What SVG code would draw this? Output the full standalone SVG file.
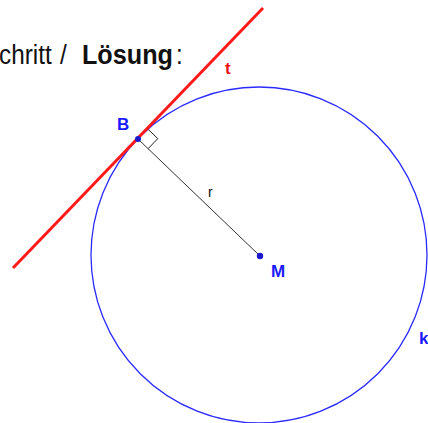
<svg xmlns="http://www.w3.org/2000/svg" width="428" height="423" viewBox="0 0 428 423">
<style>
.hdr{font-family:"Liberation Sans",Arial,sans-serif;font-size:27px;fill:#111}
.lbl{font-family:"Liberation Sans",Arial,sans-serif;font-size:17px;font-weight:bold}
.sm{font-family:"Liberation Sans",Arial,sans-serif;font-size:14px;fill:#111}
.blue{fill:#1a1aff}
</style>
<rect width="428" height="423" fill="#fff"/>
<g id="title">
<text class="hdr" transform="scale(0.9,1)" y="64"><tspan x="-1.1">chritt</tspan><tspan x="66.7">/</tspan><tspan x="91.1" font-weight="bold" font-size="28">Lösung</tspan><tspan x="195.6">:</tspan></text>
</g>
<g id="circle-k">
<circle cx="259" cy="255" r="168" fill="none" stroke="#2a2aff" stroke-width="1.3"/>
<text class="lbl blue" x="419" y="344">k</text>
</g>
<g id="connectors">
<line id="radius" x1="138" y1="139" x2="260" y2="256" stroke="#333" stroke-width="1"/>
<polyline id="right-angle" points="147.7,128.9 157.8,138.6 148.1,148.7" fill="none" stroke="#222" stroke-width="1"/>
<text class="sm" x="208" y="197">r</text>
</g>
<g id="tangent-t">
<line x1="13" y1="268" x2="263" y2="8" stroke="#ff1a1a" stroke-width="3"/>
<text class="lbl" x="225" y="74" fill="#ee1111">t</text>
</g>
<g id="point-B">
<circle cx="138" cy="139" r="3" fill="#1a1acc"/>
<text class="lbl blue" x="117" y="130">B</text>
</g>
<g id="point-M">
<circle cx="260" cy="256" r="3.2" fill="#1a1acc"/>
<text class="lbl blue" x="271" y="277">M</text>
</g>
</svg>
